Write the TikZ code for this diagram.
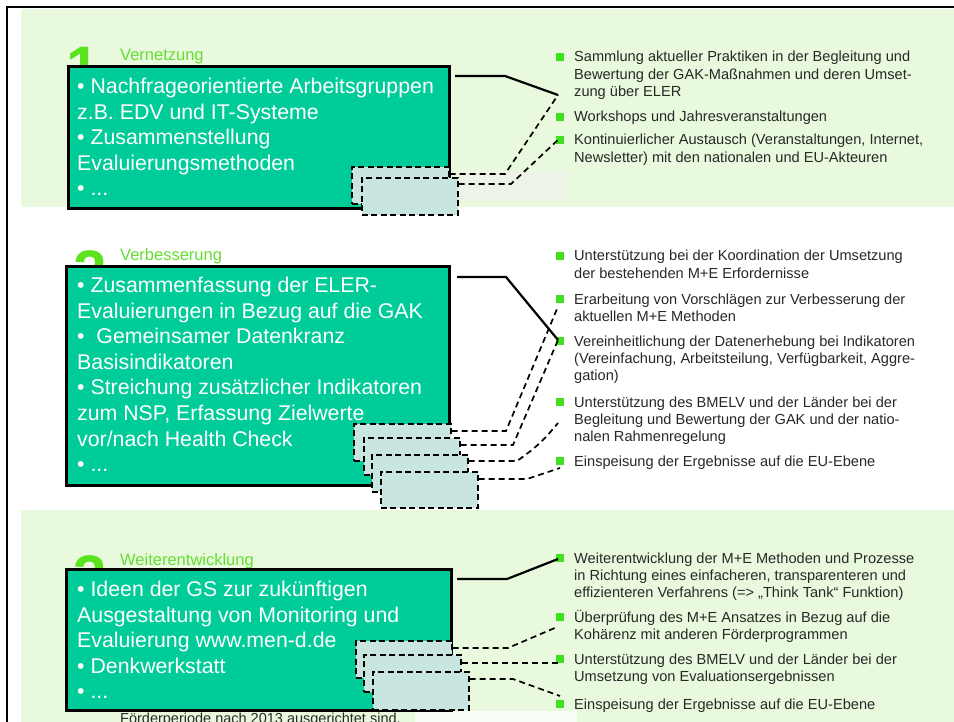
\documentclass[tikz,border=0pt]{standalone}
\usepackage{fontspec}
\setmainfont{Liberation Sans}
\usetikzlibrary{calc}
\definecolor{bandgreen}{RGB}{233,249,221}
\definecolor{tealbox}{RGB}{0,204,153}
\definecolor{dfill}{RGB}{200,230,223}
\definecolor{bgreen}{RGB}{64,224,32}
\definecolor{tgreen}{RGB}{100,222,50}
\definecolor{dgreen}{RGB}{90,228,30}
\definecolor{darktxt}{RGB}{40,40,40}
\definecolor{paleband}{RGB}{237,243,230}
\begin{document}
\begin{tikzpicture}[x=1pt,y=-1pt,
  mainbox/.style={draw=black, line width=2.8pt, fill=tealbox, inner sep=0pt, anchor=north west},
  dbox/.style={draw=black, dash pattern=on 6pt off 3.5pt, line width=1.7pt, fill=dfill, inner sep=0pt, anchor=north west, minimum width=97pt, minimum height=37pt},
  con/.style={line width=2.2pt, draw=black},
  dcon/.style={line width=1.7pt, draw=black, dash pattern=on 6pt off 4pt},
  bsq/.style={fill=bgreen, minimum size=8pt, inner sep=0pt, anchor=center},
  itemtxt/.style={anchor=base west, inner sep=0pt, align=left, text=darktxt, font=\fontsize{14.6}{17.3}\selectfont},
  boxtxt/.style={anchor=base west, inner sep=0pt, align=left, text=white, font=\fontsize{21.3}{25.6}\selectfont},
  sectitle/.style={anchor=base west, inner sep=0pt, text=tgreen, font=\fontsize{16.5}{20}\selectfont},
  digit/.style={anchor=north west, inner sep=0pt, text=dgreen, font=\bfseries\fontsize{60}{60}\selectfont}
]
\useasboundingbox (0,0) rectangle (954,722);
\clip (0,0) rectangle (954,722);
% backgrounds
\fill[white] (0,0) rectangle (954,722);
\fill[bandgreen] (21,9) rectangle (954,207);
\fill[white!97!bandgreen] (21,207) rectangle (954,510);
\fill[bandgreen] (21,510) rectangle (954,722);
\fill[paleband] (455,171) rectangle (568,200);
\fill[white!75!bandgreen] (415,711) rectangle (577,722);
\draw[line width=2pt] (7,724) -- (7,7) -- (956,7);

% section digits and titles
\node[digit] (dig1) at (66,47) {1};
\node[digit] (dig2) at (73,250) {2};
\node[digit] (dig3) at (73,555) {3};
\node[sectitle] (t1) at (120,61) {Vernetzung};
\node[sectitle] (t2) at (120,261) {Verbesserung};
\node[sectitle] (t3) at (120,565) {Weiterentwicklung};

% bottom text
\node[anchor=base west, inner sep=0pt, text=darktxt, font=\fontsize{14.5}{17}\selectfont] (bottomtxt) at (120,723) {Förderperiode nach 2013 ausgerichtet sind.};

% ===== Section 1 =====
\node[mainbox, minimum width=381pt, minimum height=142pt] (box1) at (67,65) {};
\node[boxtxt] (bt1) at (77,195.9) {• Nachfrageorientierte Arbeitsgruppen\\z.B. EDV und IT-Systeme\\• Zusammenstellung\\Evaluierungsmethoden\\• ...};
\node[dbox] (d1a) at (351,166) {};
\node[dbox, minimum width=96pt] (d1b) at (361,177) {};

\node[bsq] (b11) at (560,57) {};
\node[itemtxt] (i11) at (574,96.6) {Sammlung aktueller Praktiken in der Begleitung und\\Bewertung der GAK-Maßnahmen und deren Umset-\\zung über ELER};
\node[bsq] (b12) at (560,117) {};
\node[itemtxt] (i12) at (574,122) {Workshops und Jahresveranstaltungen};
\node[bsq] (b13) at (560,140) {};
\node[itemtxt] (i13) at (574,162.3) {Kontinuierlicher Austausch (Veranstaltungen, Internet,\\Newsletter) mit den nationalen und EU-Akteuren};

\coordinate (s1) at (455,76);
\coordinate (e1) at (558,95);
\coordinate (e1b) at (560,138);
\draw[con] (s1) -- (505,76) -- (e1);
\draw[dcon] ($(d1a.north east)+(0,8)$) -- (505,174) -- (e1);
\draw[dcon] ($(d1b.north east)+(0,7)$) -- (511,184) -- (e1b);

% ===== Section 2 =====
\node[mainbox, minimum width=383pt, minimum height=219pt] (box2) at (65,265) {};
\node[boxtxt] (bt2) at (77,471.7) {• Zusammenfassung der ELER-\\Evaluierungen in Bezug auf die GAK\\•\ \ Gemeinsamer Datenkranz\\Basisindikatoren\\• Streichung zusätzlicher Indikatoren\\zum NSP, Erfassung Zielwerte\\vor/nach Health Check\\• ...};
\node[dbox] (d2a) at (353,423) {};
\node[dbox, minimum width=96pt] (d2b) at (363,437) {};
\node[dbox, minimum width=96pt] (d2c) at (371,454) {};
\node[dbox, minimum height=36pt] (d2d) at (380,471) {};

\node[bsq] (b21) at (560,256) {};
\node[itemtxt] (i21) at (574,278.3) {Unterstützung bei der Koordination der Umsetzung\\der bestehenden M+E Erfordernisse};
\node[bsq] (b22) at (560,299) {};
\node[itemtxt] (i22) at (574,321.3) {Erarbeitung von Vorschlägen zur Verbesserung der\\aktuellen M+E Methoden};
\node[bsq] (b23) at (560,341) {};
\node[itemtxt] (i23) at (574,380.6) {Vereinheitlichung der Datenerhebung bei Indikatoren\\(Vereinfachung, Arbeitsteilung, Verfügbarkeit, Aggre-\\gation)};
\node[bsq] (b24) at (560,402) {};
\node[itemtxt] (i24) at (574,441.6) {Unterstützung des BMELV und der Länder bei der\\Begleitung und Bewertung der GAK und der natio-\\nalen Rahmenregelung};
\node[bsq] (b25) at (560,461) {};
\node[itemtxt] (i25) at (574,466) {Einspeisung der Ergebnisse auf die EU-Ebene};

\coordinate (s2) at (457,277);
\coordinate (e2) at (558,340);
\coordinate (e2a) at (557,309);
\coordinate (e2c) at (558,423);
\coordinate (e2d) at (560,468);
\draw[con] (s2) -- (506,277) -- (e2);
\draw[dcon] ($(d2a.north east)+(0,8)$) -- (506,431) -- (e2a);
\draw[dcon] ($(d2b.north east)+(0,8)$) -- (513,445) -- (e2);
\draw[dcon] ($(d2c.north east)+(0,7)$) -- (517,461) to[bend right=8] (e2c);
\draw[dcon] ($(d2d.north east)+(0,8)$) -- (527,479) -- (e2d);

% ===== Section 3 =====
\node[mainbox, minimum width=385pt, minimum height=141pt] (box3) at (65,568) {};
\node[boxtxt] (bt3) at (77,698.9) {• Ideen der GS zur zukünftigen\\Ausgestaltung von Monitoring und\\Evaluierung www.men-d.de\\• Denkwerkstatt\\• ...};
\node[dbox, minimum width=96pt] (d3a) at (355,640) {};
\node[dbox] (d3b) at (363,654) {};
\node[dbox, minimum width=96pt, minimum height=38pt] (d3c) at (372,671) {};

\node[bsq] (b31) at (560,558) {};
\node[itemtxt] (i31) at (574,597.6) {Weiterentwicklung der M+E Methoden und Prozesse\\in Richtung eines einfacheren, transparenteren und\\effizienteren Verfahrens (=> „Think Tank“ Funktion)};
\node[bsq] (b32) at (560,617) {};
\node[itemtxt] (i32) at (574,639.3) {Überprüfung des M+E Ansatzes in Bezug auf die\\Kohärenz mit anderen Förderprogrammen};
\node[bsq] (b33) at (560,659) {};
\node[itemtxt] (i33) at (574,681.3) {Unterstützung des BMELV und der Länder bei der\\Umsetzung von Evaluationsergebnissen};
\node[bsq] (b34) at (560,704) {};
\node[itemtxt] (i34) at (574,709) {Einspeisung der Ergebnisse auf die EU-Ebene};

\coordinate (s3) at (457,579);
\coordinate (e3) at (558,559);
\coordinate (e3a) at (557,627);
\coordinate (e3b) at (560,663);
\coordinate (e3c) at (560,696);
\draw[con] (s3) -- (507,579) -- (e3);
\draw[dcon] ($(d3a.north east)+(0,8)$) -- (508,648) -- (e3a);
\draw[dcon] ($(d3b.north east)+(0,9)$) -- (e3b);
\draw[dcon] ($(d3c.north east)+(0,8)$) -- (513,679) -- (e3c);
\end{tikzpicture}
\end{document}
